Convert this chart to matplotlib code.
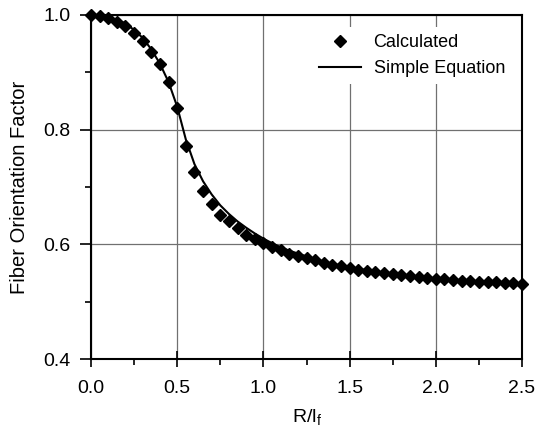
import matplotlib
matplotlib.use("Agg")
import matplotlib.pyplot as plt
from matplotlib.ticker import MultipleLocator, FormatStrFormatter

plt.rcParams['font.family'] = ['Liberation Sans', 'DejaVu Sans']

# R/lf positions (step 0.05)
r_lf = [0.00, 0.05, 0.10, 0.15, 0.20, 0.25, 0.30, 0.35, 0.40, 0.45,
        0.50, 0.55, 0.60, 0.65, 0.70, 0.75, 0.80, 0.85, 0.90, 0.95,
        1.00, 1.05, 1.10, 1.15, 1.20, 1.25, 1.30, 1.35, 1.40, 1.45,
        1.50, 1.55, 1.60, 1.65, 1.70, 1.75, 1.80, 1.85, 1.90, 1.95,
        2.00, 2.05, 2.10, 2.15, 2.20, 2.25, 2.30, 2.35, 2.40, 2.45, 2.50]

calculated = [1.000, 0.999, 0.994, 0.988, 0.981, 0.968, 0.955, 0.936, 0.914, 0.884,
              0.838, 0.771, 0.726, 0.693, 0.671, 0.652, 0.640, 0.628, 0.617, 0.610,
              0.603, 0.595, 0.590, 0.584, 0.580, 0.576, 0.572, 0.567, 0.564, 0.562,
              0.559, 0.556, 0.554, 0.552, 0.550, 0.548, 0.546, 0.544, 0.543, 0.541,
              0.540, 0.539, 0.538, 0.536, 0.536, 0.535, 0.534, 0.534, 0.533, 0.532, 0.531]

simple_eq = [1.000, 0.999, 0.996, 0.992, 0.985, 0.974, 0.960, 0.940, 0.915, 0.883,
             0.840, 0.783, 0.740, 0.710, 0.687, 0.668, 0.653, 0.640, 0.629, 0.619,
             0.610, 0.602, 0.595, 0.589, 0.584, 0.579, 0.574, 0.570, 0.566, 0.563,
             0.560, 0.557, 0.555, 0.552, 0.550, 0.548, 0.546, 0.544, 0.542, 0.541,
             0.539, 0.538, 0.537, 0.536, 0.535, 0.534, 0.533, 0.532, 0.531, 0.531, 0.530]

fig = plt.figure(figsize=(5.36, 4.36), dpi=100)
ax = fig.add_axes([91/536, 77/436, 431/536, 344/436])

ax.plot(r_lf, calculated, linestyle='none', marker='D', markersize=5.8,
        color='black', label='Calculated', zorder=3, clip_on=False)
ax.plot(r_lf, simple_eq, color='black', linewidth=1.5, label='Simple Equation', zorder=2)

ax.set_xlim(0, 2.5)
ax.set_ylim(0.4, 1.0)
ax.xaxis.set_major_locator(MultipleLocator(0.5))
ax.xaxis.set_minor_locator(MultipleLocator(0.25))
ax.yaxis.set_major_locator(MultipleLocator(0.2))
ax.yaxis.set_minor_locator(MultipleLocator(0.1))
ax.xaxis.set_major_formatter(FormatStrFormatter('%.1f'))
ax.yaxis.set_major_formatter(FormatStrFormatter('%.1f'))

ax.grid(True, which='major', color='#707070', linewidth=0.9)
ax.set_axisbelow(True)
ax.tick_params(which='major', direction='out', length=8, width=1.2, labelsize=14)
ax.tick_params(axis='x', which='major', direction='inout', length=12, pad=9)
ax.tick_params(axis='y', which='major', pad=7)
ax.tick_params(which='minor', direction='out', length=4, width=1.2)
for s in ax.spines.values():
    s.set_linewidth(1.5)

ax.set_xlabel(r'R/l$_\mathregular{f}$', fontsize=14, labelpad=8)
ax.set_ylabel('Fiber Orientation Factor', fontsize=14.5, labelpad=10)

leg = ax.legend(loc='upper right', fontsize=13, frameon=True, fancybox=False,
                edgecolor='none', facecolor='white', framealpha=1,
                handlelength=2.3, handletextpad=0.7, borderpad=0.4, labelspacing=0.5,
                bbox_to_anchor=(0.998, 0.992))

fig.savefig('out.png', dpi=100)
